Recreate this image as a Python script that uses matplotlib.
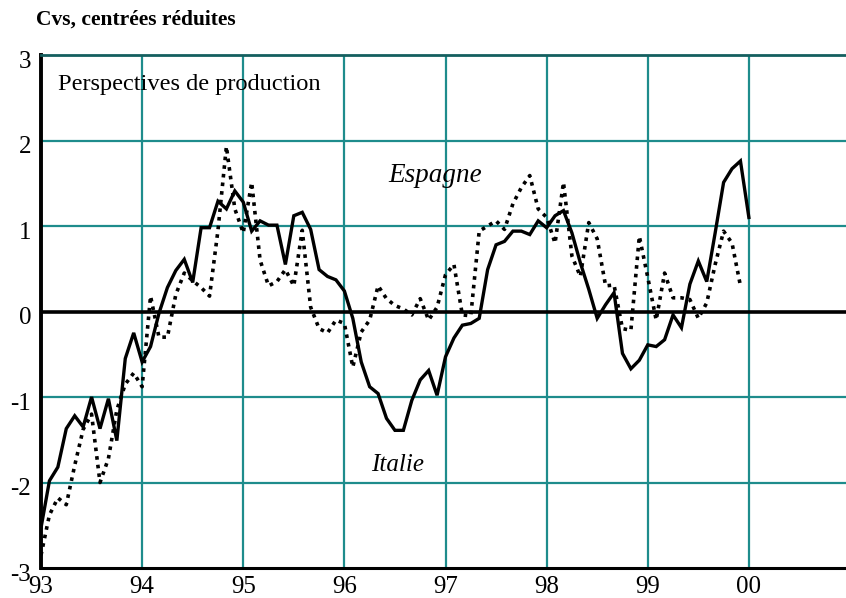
import numpy as np
import matplotlib
matplotlib.use("Agg")
import matplotlib.pyplot as plt
from matplotlib.transforms import ScaledTranslation

# ---- data (monthly, Jan 1993 onwards) ----
italie = [-2.53, -1.98, -1.82, -1.37, -1.22, -1.35, -1.00, -1.37, -1.02, -1.51,
          -0.55, -0.25, -0.59, -0.41, -0.02, 0.28, 0.48, 0.61, 0.34, 0.98,
          0.98, 1.29, 1.20, 1.41, 1.28, 0.94, 1.06, 1.01, 1.01, 0.55,
          1.12, 1.16, 0.96, 0.49, 0.41, 0.37, 0.24, -0.08, -0.59, -0.88,
          -0.96, -1.25, -1.39, -1.39, -1.04, -0.80, -0.69, -0.98, -0.53, -0.31,
          -0.16, -0.14, -0.08, 0.49, 0.78, 0.82, 0.94, 0.94, 0.90, 1.06,
          0.98, 1.12, 1.18, 0.92, 0.57, 0.26, -0.08, 0.08, 0.22, -0.49,
          -0.67, -0.57, -0.39, -0.41, -0.33, -0.04, -0.19, 0.32, 0.59, 0.35,
          0.92, 1.51, 1.67, 1.76, 1.10]

espagne = [-2.85, -2.38, -2.18, -2.26, -1.80, -1.38, -1.20, -2.00, -1.72, -1.15,
           -0.85, -0.72, -0.88, 0.18, -0.30, -0.30, 0.20, 0.45, 0.36, 0.28,
           0.18, 0.95, 1.93, 1.20, 0.92, 1.51, 0.60, 0.30, 0.35, 0.49,
           0.30, 0.95, 0.05, -0.20, -0.25, -0.10, -0.14, -0.65, -0.24, -0.10,
           0.30, 0.15, 0.07, 0.03, -0.04, 0.15, -0.10, 0.05, 0.43, 0.55,
           -0.04, -0.05, 0.94, 1.00, 1.06, 0.96, 1.26, 1.45, 1.59, 1.20,
           1.10, 0.80, 1.51, 0.65, 0.41, 1.04, 0.85, 0.30, 0.31, -0.20,
           -0.22, 0.88, 0.40, -0.10, 0.45, 0.16, 0.16, 0.14, -0.08, 0.10,
           0.55, 0.94, 0.80, 0.30]

start_year = 93
year_ticks = [93, 94, 95, 96, 97, 98, 99, 100]
year_labels = ["93", "94", "95", "96", "97", "98", "99", "00"]
y_ticks = [-3, -2, -1, 0, 1, 2, 3]

teal = "#1e8c8c"
serif = "Liberation Serif"
plt.rcParams["font.family"] = [serif, "DejaVu Serif"]

fig = plt.figure(figsize=(8.46, 5.98), dpi=100)
ax = fig.add_axes([41 / 846, 1 - 568 / 598, 809 / 846, 513 / 598])

x_it = start_year + np.arange(len(italie)) / 12.0
x_es = start_year + np.arange(len(espagne)) / 12.0

ax.set_xlim(93, 101)
ax.set_ylim(-3, 3)

# grid
for xv in year_ticks[1:]:
    ax.axvline(xv, color=teal, lw=1.6, zorder=1)
for yv in [-2, -1, 1, 2]:
    ax.axhline(yv, color=teal, lw=1.6, zorder=1)
ax.axhline(0, color="black", lw=2.6, zorder=2)

ax.plot(x_es, espagne, color="black", lw=2.6, linestyle=(0, (1, 1.4)),
        zorder=3, dash_capstyle="butt")
ax.plot(x_it, italie, color="black", lw=2.4, zorder=4, solid_joinstyle="miter")

ax.spines["right"].set_visible(False)
ax.spines["left"].set_linewidth(2.8)
ax.spines["left"].set_color("black")
ax.spines["bottom"].set_linewidth(2.2)
ax.spines["bottom"].set_color("black")
ax.spines["top"].set_linewidth(2.0)
ax.spines["top"].set_color("#145f5f")

ax.set_xticks(year_ticks)
ax.set_xticklabels(year_labels)
ax.set_yticks(y_ticks)
ax.set_yticklabels([str(v) for v in y_ticks])
ax.tick_params(axis="both", length=0, labelsize=18)
ax.tick_params(axis="y", pad=7)
ax.tick_params(axis="x", pad=6)

off = ScaledTranslation(0, 3 / 72, fig.dpi_scale_trans)
for t in ax.yaxis.get_major_ticks():
    t.label1.set_verticalalignment("top")
    t.label1.set_transform(t.label1.get_transform() + off)

fig.text(36 / 846, 1 - 20 / 598, "Cvs, centrées réduites", fontsize=15.5,
         fontweight="bold", va="center", ha="left", family=[serif])
ax.text(93.17, 2.66, "Perspectives de production", fontsize=17.6,
        va="center", ha="left")
ax.text(96.43, 1.585, "Espagne", fontsize=19.5, style="italic",
        va="center", ha="left")
ax.text(96.26, -1.79, "Italie", fontsize=18, style="italic",
        va="center", ha="left")

fig.savefig("out.png", dpi=100)
